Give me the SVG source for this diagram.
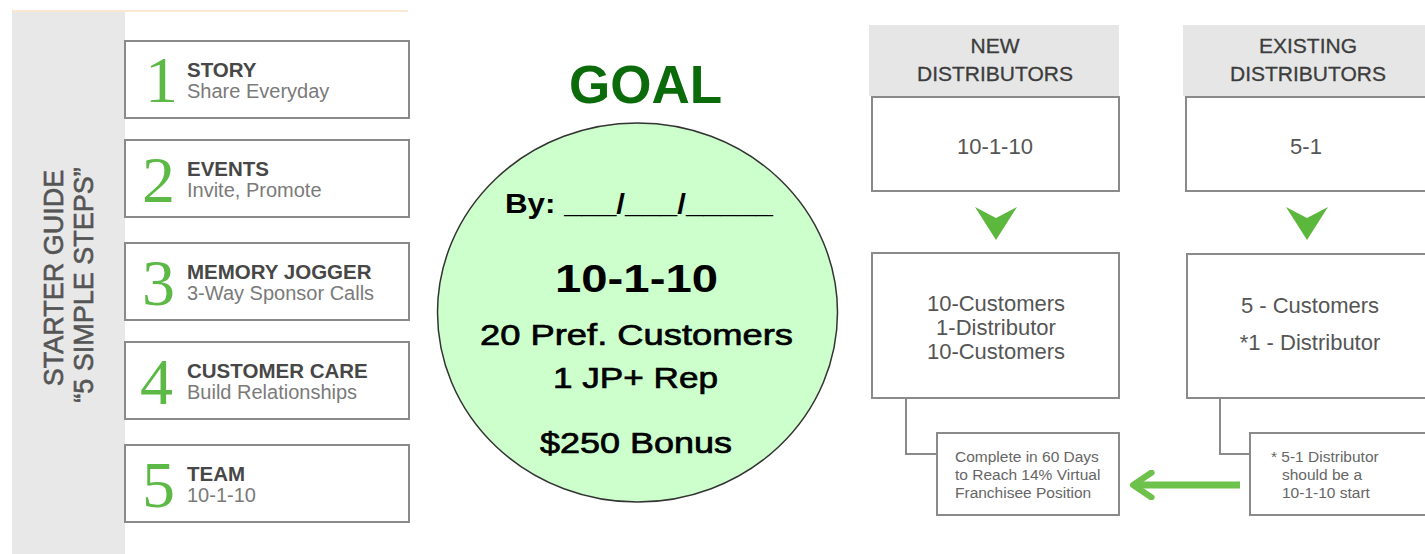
<svg xmlns="http://www.w3.org/2000/svg" width="1425" height="554" viewBox="0 0 1425 554">
<defs>
<style>
.box{fill:#fff;stroke:#8a8a8a;stroke-width:2}
.hdr{fill:#e6e6e6}
.num{font-family:"Liberation Serif",serif;font-size:66px;fill:#5cb946}
.ttl{font-family:"Liberation Sans",Arial,sans-serif;font-size:20.5px;font-weight:bold;fill:#474747}
.sub{font-family:"Liberation Sans",Arial,sans-serif;font-size:20px;fill:#7a7a7a}
.side{font-family:"Liberation Sans",Arial,sans-serif;font-size:27px;fill:#555;stroke:#555;stroke-width:0.6}
.hd{font-family:"Liberation Sans",Arial,sans-serif;font-size:21px;fill:#3c3c3c;text-anchor:middle;stroke:#3c3c3c;stroke-width:0.3}
.bt{font-family:"Liberation Sans",Arial,sans-serif;font-size:22px;fill:#555;text-anchor:middle}
.sm{font-family:"Liberation Sans",Arial,sans-serif;font-size:15.5px;fill:#666}
.ct{font-family:"Liberation Sans",Arial,sans-serif;fill:#000;text-anchor:middle}
.med{stroke:#000;stroke-width:0.7}
.conn{fill:none;stroke:#8a8a8a;stroke-width:2}
.down{fill:#5cb83c}
</style>
<marker id="ah" viewBox="0 0 10 10" refX="8" refY="5" markerWidth="4.4" markerHeight="4.4" orient="auto" markerUnits="strokeWidth">
<path d="M2,1 L8,5 L2,9" fill="none" stroke="#6cc24a" stroke-width="2" stroke-linecap="round" stroke-linejoin="round"/>
</marker>
</defs>
<rect width="1425" height="554" fill="#fff"/>

<g id="starter-guide">
<rect x="12" y="11" width="113" height="543" fill="#e8e8e8"/>
<line x1="12" y1="11" x2="408" y2="11" stroke="#fbe7d2" stroke-width="2"/>
<text class="side" transform="translate(63,278) rotate(-90)" text-anchor="middle">STARTER GUIDE</text>
<text class="side" transform="translate(93,285) rotate(-90)" text-anchor="middle">“5 SIMPLE STEPS”</text>
</g>

<g id="step1">
<rect class="box" x="125" y="41" width="284" height="77"/>
<text class="num" x="145" y="102">1</text>
<text class="ttl" x="187" y="77">STORY</text>
<text class="sub" x="187" y="98">Share Everyday</text>
</g>
<g id="step2">
<rect class="box" x="125" y="140" width="284" height="77"/>
<text class="num" x="142" y="202">2</text>
<text class="ttl" x="187" y="176">EVENTS</text>
<text class="sub" x="187" y="197">Invite, Promote</text>
</g>
<g id="step3">
<rect class="box" x="125" y="243" width="284" height="77"/>
<text class="num" x="142" y="305">3</text>
<text class="ttl" x="187" y="279">MEMORY JOGGER</text>
<text class="sub" x="187" y="300">3-Way Sponsor Calls</text>
</g>
<g id="step4">
<rect class="box" x="125" y="342" width="284" height="77"/>
<text class="num" x="140" y="404">4</text>
<text class="ttl" x="187" y="378">CUSTOMER CARE</text>
<text class="sub" x="187" y="399">Build Relationships</text>
</g>
<g id="step5">
<rect class="box" x="125" y="445" width="284" height="77"/>
<text class="num" x="142" y="507">5</text>
<text class="ttl" x="187" y="481">TEAM</text>
<text class="sub" x="187" y="502">10-1-10</text>
</g>

<g id="goal">
<text x="645.5" y="103" text-anchor="middle" font-family="Liberation Sans, Arial, sans-serif" font-weight="bold" font-size="53" fill="#0b6b0b">GOAL</text>
<ellipse cx="637.5" cy="312.5" rx="200" ry="189.5" fill="#ccffcc" stroke="#333" stroke-width="1.5"/>
<text class="ct" x="639" y="213" font-size="28" font-weight="bold" textLength="268" lengthAdjust="spacingAndGlyphs">By: ___/___/_____</text>
<text class="ct" x="636.5" y="292" font-size="38" font-weight="bold" textLength="163" lengthAdjust="spacingAndGlyphs">10-1-10</text>
<text class="ct med" x="636.5" y="345" font-size="30" textLength="313" lengthAdjust="spacingAndGlyphs">20 Pref. Customers</text>
<text class="ct med" x="635.5" y="388" font-size="30" textLength="165" lengthAdjust="spacingAndGlyphs">1 JP+ Rep</text>
<text class="ct med" x="636" y="453" font-size="30" textLength="192" lengthAdjust="spacingAndGlyphs">$250 Bonus</text>
</g>

<g id="new-header">
<rect class="hdr" x="869" y="25" width="250" height="71"/>
<text class="hd" x="995" y="53">NEW</text>
<text class="hd" x="995" y="81">DISTRIBUTORS</text>
</g>
<g id="new-target">
<rect class="box" x="872" y="97" width="247" height="94"/>
<text class="bt" x="995" y="154">10-1-10</text>
</g>
<g id="new-detail">
<rect class="box" x="872" y="253" width="247" height="145"/>
<text class="bt" x="996" y="311">10-Customers</text>
<text class="bt" x="996" y="335">1-Distributor</text>
<text class="bt" x="996" y="359">10-Customers</text>
</g>
<g id="new-note">
<rect class="box" x="937" y="433" width="182" height="82"/>
<text class="sm" x="955" y="462">Complete in 60 Days</text>
<text class="sm" x="955" y="480">to Reach 14% Virtual</text>
<text class="sm" x="955" y="498">Franchisee Position</text>
</g>

<g id="existing-header">
<rect class="hdr" x="1183" y="25" width="250" height="71"/>
<text class="hd" x="1308" y="53">EXISTING</text>
<text class="hd" x="1308" y="81">DISTRIBUTORS</text>
</g>
<g id="existing-target">
<rect class="box" x="1186" y="97" width="250" height="94"/>
<text class="bt" x="1306" y="154">5-1</text>
</g>
<g id="existing-detail">
<rect class="box" x="1187" y="254" width="250" height="144"/>
<text class="bt" x="1310" y="313">5 - Customers</text>
<text class="bt" x="1310" y="350">*1 - Distributor</text>
</g>
<g id="existing-note">
<rect class="box" x="1250" y="433" width="190" height="82"/>
<text class="sm" x="1271" y="462">* 5-1 Distributor</text>
<text class="sm" x="1282" y="480">should be a</text>
<text class="sm" x="1282" y="498">10-1-10 start</text>
</g>

<g id="connectors">
<path class="down" d="M975,207 L996,218 L1017,207 L996,240 Z"/>
<path class="down" d="M1286,207 L1307,218 L1328,207 L1307,240 Z"/>
<polyline class="conn" points="906,398 906,454 937,454"/>
<polyline class="conn" points="1220,398 1220,454 1250,454"/>
<line x1="1240" y1="485" x2="1133" y2="485" stroke="#6cc24a" stroke-width="7" marker-end="url(#ah)"/>
</g>
</svg>
